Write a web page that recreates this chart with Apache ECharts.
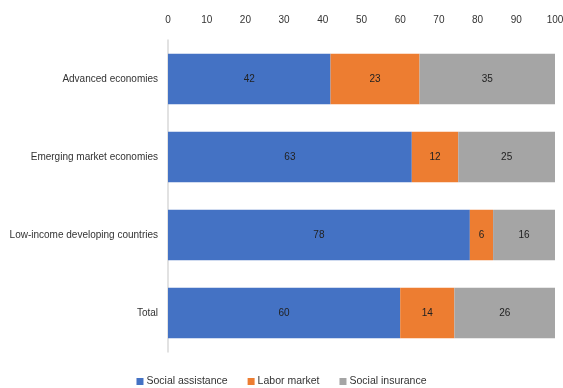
<!DOCTYPE html>
<html>
<head>
<meta charset="utf-8">
<script src="https://cdn.jsdelivr.net/npm/echarts@6/dist/echarts.min.js"></script>
<style>
  html, body { margin: 0; padding: 0; background: #fff; }
  #chart { width: 563px; height: 388px; }
</style>
</head>
<body>
<div id="chart"></div>
<script>
// Share of spending by program type (percent)
const categories = ['Advanced economies', 'Emerging market economies', 'Low-income developing countries', 'Total'];
const socialAssistance = [42, 63, 78, 60];
const laborMarket = [23, 12, 6, 14];
const socialInsurance = [35, 25, 16, 26];
const seriesNames = ['Social assistance', 'Labor market', 'Social insurance'];
const seriesColors = ['#4472C4', '#ED7D31', '#A5A5A5'];

const FONT = "'Liberation Sans', Arial, sans-serif";
const TEXT = '#333333';

const chart = echarts.init(document.getElementById('chart'), null, { renderer: 'canvas' });

const values = [socialAssistance, laborMarket, socialInsurance];

chart.setOption({
  animation: false,
  textStyle: { fontFamily: FONT },
  grid: { left: 168, right: 8, top: 40, bottom: 36, containLabel: false, outerBoundsMode: 'none' },
  legend: {
    bottom: -4,
    left: 'center',
    itemWidth: 7,
    itemHeight: 7,
    itemGap: 20,
    icon: 'rect',
    textStyle: { fontFamily: FONT, fontSize: 10.5, color: TEXT, padding: [0, 0, 0, -2] },
    data: seriesNames
  },
  xAxis: {
    type: 'value',
    position: 'top',
    min: 0,
    max: 100,
    interval: 10,
    axisLine: { show: false },
    axisTick: { show: false },
    splitLine: { show: false },
    axisLabel: { fontFamily: FONT, fontSize: 10, color: TEXT, margin: 15 }
  },
  yAxis: {
    type: 'category',
    inverse: true,
    data: categories,
    axisLine: { show: true, lineStyle: { color: '#D9D9D9', width: 1.5 } },
    axisTick: { show: false },
    axisLabel: { fontFamily: FONT, fontSize: 10, color: TEXT, margin: 10 }
  },
  series: seriesNames.map((name, i) => ({
    name: name,
    type: 'bar',
    stack: 'total',
    barCategoryGap: '35%',
    itemStyle: { color: seriesColors[i] },
    label: {
      show: true,
      position: 'inside',
      fontFamily: FONT,
      fontSize: 10,
      color: '#222222'
    },
    data: values[i]
  }))
});
</script>
</body>
</html>
